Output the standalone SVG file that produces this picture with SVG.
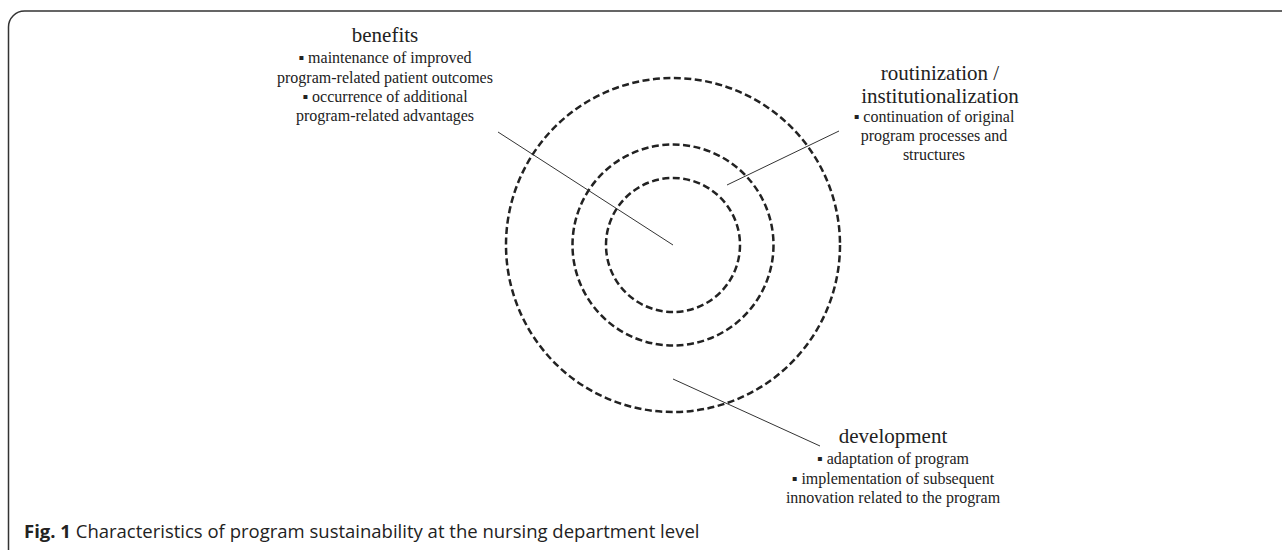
<svg xmlns="http://www.w3.org/2000/svg" width="1282" height="550" viewBox="0 0 1282 550">
<style>
.ring{fill:none;stroke:#222;stroke-width:2.5;stroke-dasharray:7 3.5}
.lead{stroke:#333;stroke-width:1;fill:none}
.h{font-family:"Liberation Serif","Times New Roman",serif;font-size:21px;fill:#222;text-anchor:middle}
.b{font-family:"Liberation Serif","Times New Roman",serif;font-size:16px;fill:#222;text-anchor:middle}
.cap{font-family:"Open Sans","Noto Sans",sans-serif;font-size:18.5px;fill:#222}
.frame{fill:none;stroke:#333;stroke-width:1.5}
</style>
<path class="frame" d="M8.5,550 V27 A16,16 0 0 1 24.5,11 H1282"/>
<g id="rings">
<circle class="ring" cx="673" cy="245" r="167"/>
<circle class="ring" cx="673" cy="245" r="100.5"/>
<circle class="ring" cx="673" cy="245" r="67"/>
</g>
<g id="connectors">
<line class="lead" x1="498" y1="132" x2="673" y2="245"/>
<line class="lead" x1="727" y1="185" x2="839" y2="131"/>
<line class="lead" x1="673" y1="379" x2="820" y2="446"/>
</g>
<g id="benefits">
<text class="h" x="385" y="42">benefits</text>
<text class="b" x="385" y="63">▪ maintenance of improved</text>
<text class="b" x="385" y="83">program-related patient outcomes</text>
<text class="b" x="385" y="102">▪ occurrence of additional</text>
<text class="b" x="385" y="121">program-related advantages</text>
</g>
<g id="routinization">
<text class="h" x="940" y="80">routinization /</text>
<text class="h" x="940" y="103">institutionalization</text>
<text class="b" x="934" y="122">▪ continuation of original</text>
<text class="b" x="934" y="141">program processes and</text>
<text class="b" x="934" y="160">structures</text>
</g>
<g id="development">
<text class="h" x="893" y="443">development</text>
<text class="b" x="893" y="464">▪ adaptation of program</text>
<text class="b" x="893" y="484">▪ implementation of subsequent</text>
<text class="b" x="893" y="503">innovation related to the program</text>
</g>
<g id="caption">
<text class="cap" x="24" y="538"><tspan font-weight="bold">Fig. 1</tspan> Characteristics of program sustainability at the nursing department level</text>
</g>
</svg>
